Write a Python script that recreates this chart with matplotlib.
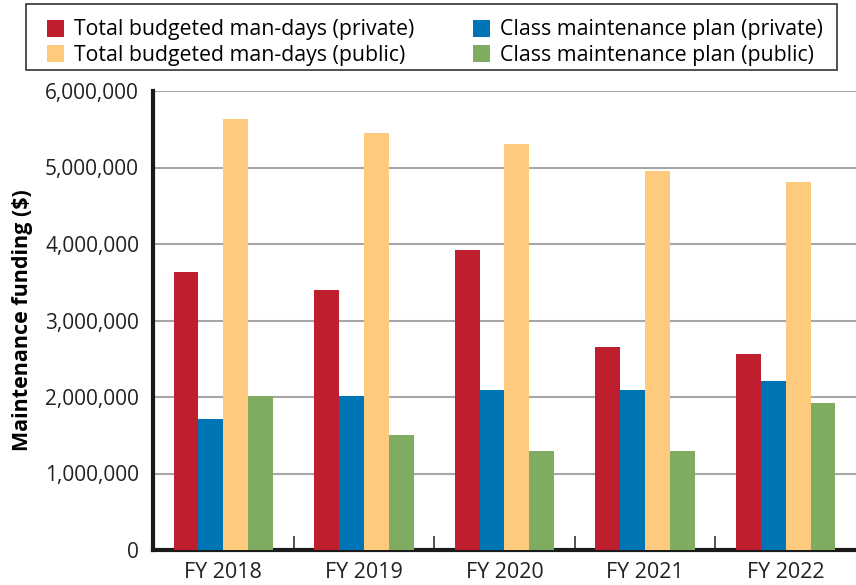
import matplotlib
matplotlib.use("Agg")
import matplotlib.pyplot as plt
from matplotlib.patches import Rectangle
from matplotlib.ticker import FuncFormatter, FixedLocator
import numpy as np

plt.rcParams['font.family'] = ['Open Sans', 'DejaVu Sans']

years = ["FY 2018", "FY 2019", "FY 2020", "FY 2021", "FY 2022"]
series_names = [
    "Total budgeted man-days (private)",
    "Class maintenance plan (private)",
    "Total budgeted man-days (public)",
    "Class maintenance plan (public)",
]
total_private = [3630000, 3400000, 3920000, 2650000, 2560000]
class_private = [1710000, 2010000, 2090000, 2090000, 2210000]
total_public = [5630000, 5450000, 5310000, 4950000, 4810000]
class_public = [2010000, 1500000, 1290000, 1290000, 1920000]
colors = ["#BE1E2D", "#0075B5", "#FECB7E", "#80AC62"]

values = [total_private, class_private, total_public, class_public]

W, H = 856, 585
fig = plt.figure(figsize=(W / 100, H / 100), dpi=100)
ax = fig.add_axes([153 / W, 35 / H, 1 - 153 / W, 459 / H])

x = np.arange(len(years))
w = 0.177
handles = []
for i, (vals, col) in enumerate(zip(values, colors)):
    b = ax.bar(x + (i - 1.5) * w, vals, w, color=col, zorder=3, label=series_names[i])
    handles.append(b)

ax.set_xlim(-0.5, len(years) - 0.5)
ax.set_ylim(0, 6000000)
ax.set_yticks(np.arange(0, 6000001, 1000000))
ax.yaxis.set_major_formatter(FuncFormatter(lambda v, p: f"{int(v):,}"))
ax.grid(axis="y", color="#a6a6a6", linewidth=1.5, zorder=0)
ax.tick_params(axis="y", length=0, labelsize=15, pad=10, colors="#222222")

ax.set_xticks(x)
ax.set_xticklabels(years)
ax.tick_params(axis="x", which="major", length=0, labelsize=15.5, pad=9, colors="#222222")
ax.xaxis.set_minor_locator(FixedLocator(x[:-1] + 0.5))
ax.tick_params(axis="x", which="minor", direction="in", length=10, width=1.2, color="#333333")

for s in ["top", "right"]:
    ax.spines[s].set_visible(False)
ax.spines["left"].set_linewidth(3)
ax.spines["bottom"].set_linewidth(3)
ax.spines["left"].set_color("#1a1a1a")
ax.spines["bottom"].set_color("#1a1a1a")

ax.set_ylabel("Maintenance funding ($)", fontsize=15.5, fontweight="bold", labelpad=9)

# legend entries without frame, box drawn separately
leg_top = 1 - 19.5 / H
leg = fig.legend([handles[i] for i in [0, 2, 1, 3]], [series_names[i] for i in [0, 2, 1, 3]],
                 ncol=2, loc="upper left",
                 bbox_to_anchor=(47 / W, leg_top - 0.1, (823 - 47) / W, 0.1),
                 mode="expand", fontsize=15.3, frameon=False,
                 handlelength=0.8, handleheight=0.85, handletextpad=0.47,
                 labelspacing=0.2, borderpad=0, borderaxespad=0)
fig.patches.append(Rectangle((26 / W, 1 - 70 / H), (837 - 26) / W, 66 / H,
                             transform=fig.transFigure, fill=False,
                             edgecolor="#333333", linewidth=1.2))

fig.savefig("out.png", dpi=100)
